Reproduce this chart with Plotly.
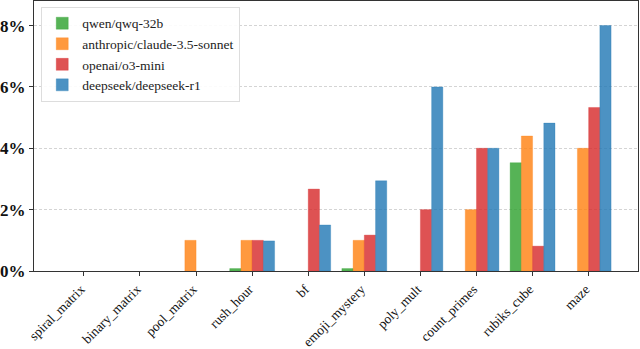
import plotly.graph_objects as go

categories = ["spiral_matrix", "binary_matrix", "pool_matrix", "rush_hour", "bf",
              "emoji_mystery", "poly_mult", "count_primes", "rubiks_cube", "maze"]
series_names = ["qwen/qwq-32b", "anthropic/claude-3.5-sonnet", "openai/o3-mini", "deepseek/deepseek-r1"]
qwq = [0, 0, 0, 0.08, 0, 0.08, 0, 0, 3.53, 0]
claude = [0, 0, 1.0, 1.0, 0, 1.0, 0, 2.0, 4.4, 4.0]
o3mini = [0, 0, 0, 1.0, 2.67, 1.17, 2.0, 4.0, 0.81, 5.33]
r1 = [0, 0, 0, 0.98, 1.5, 2.94, 6.0, 4.0, 4.82, 8.0]
yticks = [0, 2, 4, 6, 8]
ytick_labels = ["0%", "2%", "4%", "6%", "8%"]

colors = ["rgba(44,160,44,0.8)", "rgba(255,127,14,0.8)", "rgba(214,39,40,0.8)", "rgba(31,119,180,0.8)"]
edge = ["rgba(44,160,44,0.3)", "rgba(255,127,14,0.3)", "rgba(214,39,40,0.3)", "rgba(31,119,180,0.3)"]
offsets = [-0.4, -0.2, 0.0, 0.2]
xs = list(range(len(categories)))

fig = go.Figure()
for name, vals, c, e, off in zip(series_names, [qwq, claude, o3mini, r1], colors, edge, offsets):
    fig.add_trace(go.Bar(
        x=xs, y=[v if v > 0 else None for v in vals], name=name, width=0.2, offset=off,
        marker=dict(color=c, line=dict(color=e, width=1)),
    ))

font_family = "Liberation Serif, DejaVu Serif, serif"
fig.update_layout(
    width=640, height=349, autosize=False,
    margin=dict(l=34, r=2, t=1, b=78),
    plot_bgcolor="white", paper_bgcolor="white",
    barmode="overlay",
    font=dict(family=font_family, color="black"),
    showlegend=True,
    legend=dict(x=0.012, y=0.978, xanchor="left", yanchor="top",
                bgcolor="rgba(255,255,255,0.9)", bordercolor="#dddddd", borderwidth=1,
                font=dict(family=font_family, size=13.5, color="#222"),
                tracegroupgap=0, itemwidth=30),
    xaxis=dict(
        tickmode="array", tickvals=xs, ticktext=categories, tickangle=-45,
        range=[-0.89, 9.88], showline=True, linecolor="#333", linewidth=1.2, mirror=True,
        ticks="outside", ticklen=4, tickcolor="#333", automargin=False,
        ticklabelshift=-3,
        tickfont=dict(family=font_family, size=13.5, color="#111"),
        showgrid=False, zeroline=False,
    ),
    yaxis=dict(
        tickmode="array", tickvals=yticks, ticktext=["<b>%s</b>" % t for t in ytick_labels],
        range=[0, 8.8], showline=True, linecolor="#333", linewidth=1.2, mirror=True,
        ticks="outside", ticklen=4, tickcolor="#333", automargin=False,
        tickfont=dict(family=font_family, size=17, color="#111"),
        showgrid=True, gridcolor="#d4d4d4", griddash="3px,2px", gridwidth=1,
        zeroline=False,
    ),
)
fig.write_html("out.html", config={"displayModeBar": False},
               post_script="document.body.style.margin='0';document.body.style.overflow='hidden';")
